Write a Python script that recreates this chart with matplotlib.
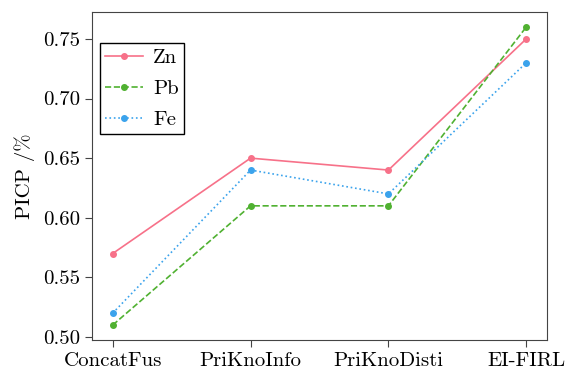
import matplotlib
matplotlib.use("Agg")
import matplotlib.pyplot as plt
import seaborn as sns

#values
methods = ["ConcatFus", "PriKnoInfo", "PriKnoDisti", "EI-FIRL"]
zn = [0.57, 0.65, 0.64, 0.75]
pb = [0.51, 0.61, 0.61, 0.76]
fe = [0.52, 0.64, 0.62, 0.73]
names = ["Zn", "Pb", "Fe"]

plt.rcParams['font.family'] = 'serif'
plt.rcParams['font.serif'] = ['cmr10']
plt.rcParams['mathtext.fontset'] = 'cm'
plt.rcParams['axes.formatter.use_mathtext'] = True

colors = sns.color_palette("husl", 3)
styles = ["-", "--", ":"]
fs = 15

fig = plt.figure(figsize=(5.66, 3.76), dpi=100)
ax = fig.add_axes([0.1625, 0.0957, 0.8039, 0.8723])

x = range(len(methods))
for vals, name, c, ls in zip([zn, pb, fe], names, colors, styles):
    ax.plot(x, vals, linestyle=ls, color=c, marker="o", markersize=4,
            linewidth=1.2, label=name)

ax.set_xticks(list(x))
ax.set_xticklabels(methods)
ax.set_yticks([0.50, 0.55, 0.60, 0.65, 0.70, 0.75])
ax.set_yticklabels(["0.50", "0.55", "0.60", "0.65", "0.70", "0.75"])
ax.set_ylabel("PICP /%", fontsize=fs, labelpad=6)
ax.tick_params(labelsize=fs, color="#444444", length=5)
for s in ax.spines.values():
    s.set_color("#444444")

leg = ax.legend(loc="upper left", bbox_to_anchor=(0.0176, 0.905), fontsize=fs,
                fancybox=False, edgecolor="black", framealpha=1,
                borderaxespad=0, handlelength=1.8, handletextpad=0.5,
                labelspacing=0.6, borderpad=0.25)
leg.get_frame().set_linewidth(1.0)

fig.savefig("out.png", dpi=100)
